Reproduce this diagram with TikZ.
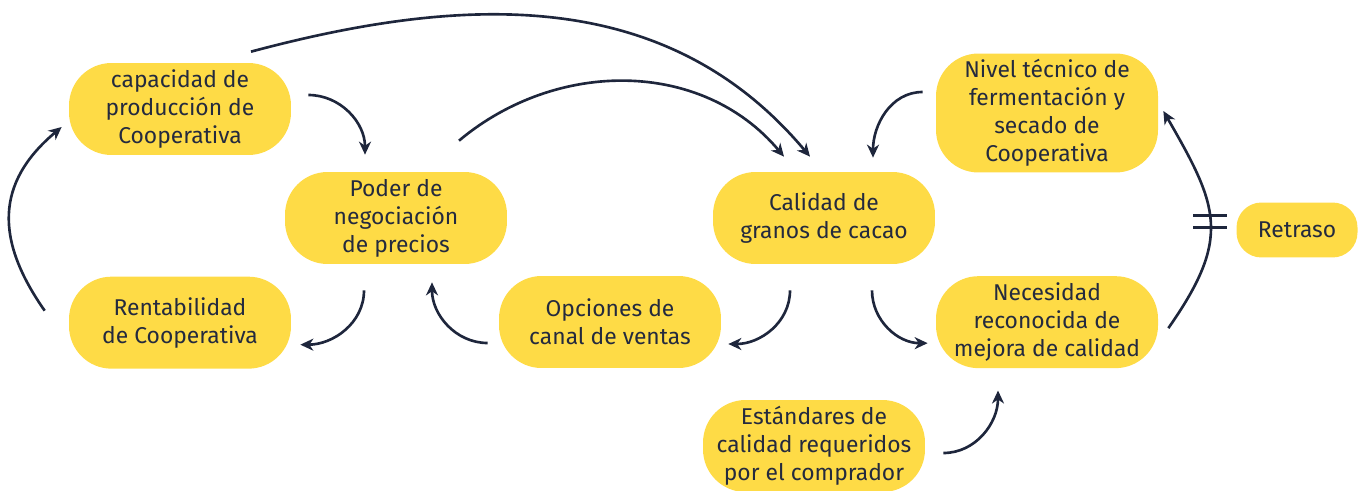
\documentclass[tikz,border=0pt]{standalone}
\usepackage{fontspec}
\setmainfont{Fira Sans}
\usetikzlibrary{arrows.meta,positioning}
\definecolor{cajaColor}{RGB}{254,219,70}
\definecolor{textoColor}{RGB}{36,42,62}
\definecolor{flechaColor}{RGB}{30,38,60}

\begin{document}
\begin{tikzpicture}[x=0.02cm, y=-0.02cm,
font=\fontsize{13}{16}\selectfont,
caja/.style={
    fill=cajaColor, text=textoColor, align=center,
    rounded corners=0.85cm, inner sep=0pt,
    minimum width=4.44cm, minimum height=1.84cm},
flecha/.style={
    flechaColor, line width=1.5pt,
    -{Stealth[length=2.6mm, width=2.4mm, inset=0.8mm]}}
]
\useasboundingbox (0,0) rectangle (1364,490);

\node[caja] (capProd) at (180,109) {capacidad de\\producción de\\Cooperativa};
\node[caja, below=2.42cm of capProd] (rentCoop) {Rentabilidad\\de Cooperativa};
\node[caja] (poderNeg) at (396,218) {Poder de\\negociación\\de precios};
\node[caja] (opcVentas) at (610,322) {Opciones de\\canal de ventas};
\node[caja] (calGranos) at (824,218) {Calidad de\\granos de cacao};
\node[caja, minimum height=2.38cm] (nivTec) at (1047,113)
        {Nivel técnico de\\fermentación y\\secado de\\Cooperativa};
\node[caja, below=2.06cm of nivTec] (necMejora) {Necesidad\\reconocida de\\mejora de calidad};
\node[caja, minimum width=2.42cm, minimum height=1.1cm, rounded corners=0.5cm]
        (retraso) at (1297,230) {Retraso};
\node[caja] (estandares) at (814,446) {Estándares de\\calidad requeridos\\por el comprador};

% bucle de la izquierda
\draw[flecha] ([shift={(17,-14)}]capProd.east) to[out=0,in=90] ([shift={(-31,-17)}]poderNeg.north);
\draw[flecha] ([shift={(-32,26)}]poderNeg.south) to[out=-90,in=0] ([shift={(9,22)}]rentCoop.east);
\draw[flecha] ([shift={(-24,-12)}]rentCoop.west) to[out=125,in=220,looseness=1.2] ([shift={(-7,18)}]capProd.west);
\draw[flecha] ([shift={(-11,21)}]opcVentas.west) to[out=180,in=-90] ([shift={(36,18)}]poderNeg.south);
\draw[flecha] ([shift={(-34,26)}]calGranos.south) to[out=-90,in=0] ([shift={(7,22)}]opcVentas.east);

% arcos largos hacia la calidad
\draw[flecha] ([shift={(63,-31)}]poderNeg.north) to[out=40,in=130] ([shift={(-40,-15)}]calGranos.north);
\draw[flecha] ([shift={(71,-11)}]capProd.north) to[out=15,in=130] ([shift={(-14,-15)}]calGranos.north);

% bucle de la derecha
\draw[flecha] ([shift={(-13,-21)}]nivTec.west) to[out=180,in=90] ([shift={(49,-14)}]calGranos.north);
\draw[flecha] ([shift={(48,26)}]calGranos.south) to[out=-90,in=180] ([shift={(-8,21)}]necMejora.west);
\draw[flecha] ([shift={(10,6)}]necMejora.east) to[out=55,in=-60,looseness=1.3]
        coordinate[pos=0.5] (marcaRetraso) ([shift={(5,-2)}]nivTec.east);
\draw[flechaColor, line width=1.5pt]
        ([shift={(-17,-6)}]marcaRetraso) -- ++(34,0)
        ([shift={(-17,6)}]marcaRetraso) -- ++(34,0);
\draw[flecha] ([shift={(18,7)}]estandares.east) to[out=0,in=-90] ([shift={(-49,22)}]necMejora.south);

\end{tikzpicture}
\end{document}
